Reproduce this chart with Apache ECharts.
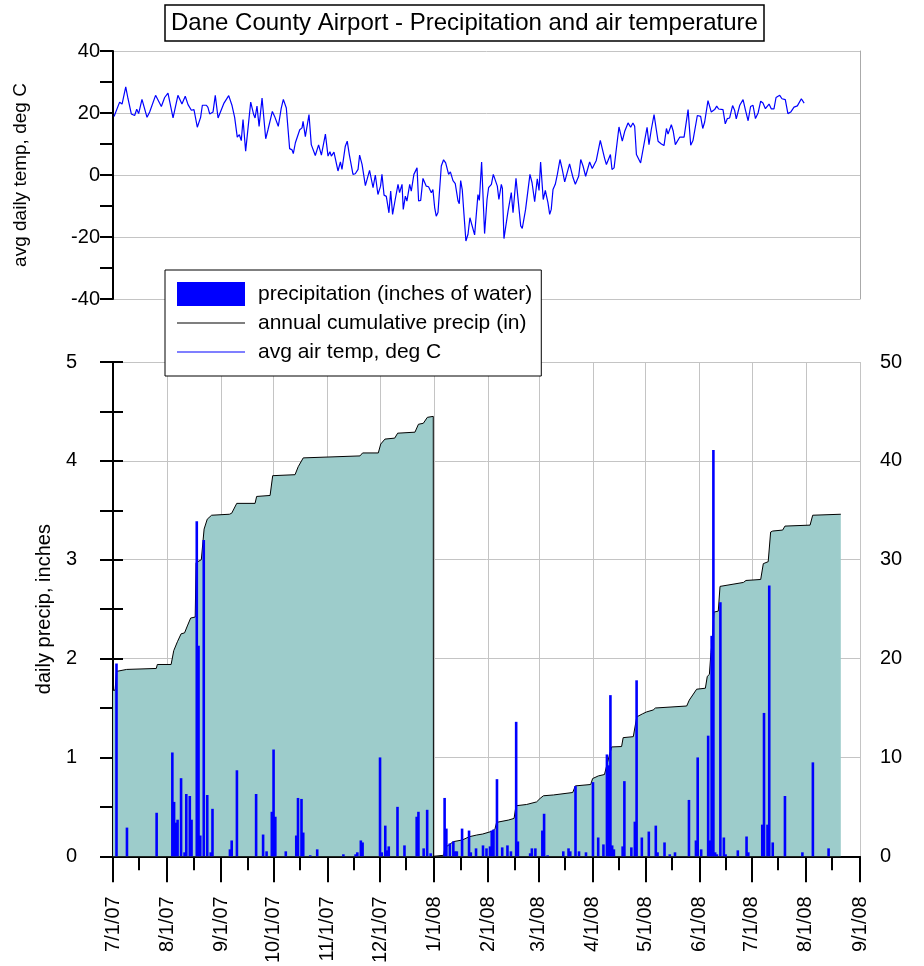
<!DOCTYPE html>
<html><head><meta charset="utf-8">
<script src="https://cdn.jsdelivr.net/npm/echarts@6/dist/echarts.min.js"></script>
<style>html,body{margin:0;padding:0;background:#fff}#c{width:924px;height:966px}</style>
</head><body><div id="c"></div>
<script>
// x positions are days since 7/1/07
const monthDays = [0,31,62,92,123,153,184,215,244,275,305,336,366,397,428];
const monthLabels = ['7/1/07','8/1/07','9/1/07','10/1/07','11/1/07','12/1/07','1/1/08','2/1/08','3/1/08','4/1/08','5/1/08','6/1/08','7/1/08','8/1/08','9/1/08'];
const minorTickDays = [15,46,77,107,138,168,199,230,259,290,320,351,381,412];

const tempDays = [0.6,3.8,5.2,7.3,8.6,9.4,10.5,12.4,13.6,14.7,16.6,17.4,19.5,21.0,24.4,27.7,29.6,31.5,32.5,34.4,37.2,39.5,41.4,43.0,43.9,44.9,46.4,48.3,50.2,51.2,53.5,54.4,55.4,57.3,58.6,60.2,61.3,63.6,66.3,68.2,69.7,71.2,72.4,73.5,74.5,76.0,78.9,80.6,81.4,82.5,83.7,85.4,87.5,88.8,89.8,91.3,92.6,93.6,94.7,96.4,97.6,98.4,99.3,101.2,102.6,103.3,104.5,107.0,108.3,108.9,110.2,112.3,113.6,114.4,115.9,116.9,117.8,119.4,121.7,123.2,124.3,125.1,126.6,128.9,130.3,131.2,
132.1,133.1,134.2,135.4,136.3,137.5,138.8,140.4,141.3,142.7,144.6,145.3,147.0,148.0,149.0,150.3,151.8,153.3,154.1,155.3,156.6,158.1,159.1,160.2,161.7,163.3,164.2,165.6,166.3,167.5,168.4,170.0,170.9,172.4,174.2,175.1,176.3,177.6,178.6,179.5,180.8,182.4,183.3,184.3,185.2,186.2,188.1,189.4,190.6,192.3,193.3,194.8,196.1,197.7,198.4,199.2,200.1,201.1,202.2,203.4,204.5,205.3,207.2,209.1,209.9,211.2,212.9,214.3,215.2,216.8,217.9,219.0,220.2,221.1,222.5,223.1,224.0,226.3,227.3,228.2,229.2,230.9,232.0,233.6,234.5,236.4,237.4,238.9,240.1,241.6,242.4,243.1,244.1,245.0,246.5,247.7,249.2,250.2,251.1,252.1,253.4,254.6,256.1,257.4,258.8,259.7,261.6,
263.6,264.9,266.8,268.0,269.3,270.8,273.1,274.6,276.9,279.2,280.2,281.7,282.7,283.6,285.0,285.9,287.1,289.9,291.8,293.2,295.1,296.6,297.9,298.9,299.9,300.8,302.3,303.1,306.0,307.1,308.4,310.0,311.3,312.3,314.2,315.7,317.1,318.0,319.9,321.0,322.2,323.3,324.7,325.6,327.2,329.5,331.0,332.3,333.3,334.8,336.7,337.9,339.0,340.9,342.8,344.7,345.9,347.0,349.5,350.8,352.0,353.3,355.0,356.2,357.1,359.1,361.0,362.3,363.9,365.3,366.7,368.1,369.6,371.1,372.4,373.8,374.9,375.9,377.2,378.7,379.9,381.0,382.0,383.3,385.2,386.7,388.3,390.2,392.1,394.4,396.0];
const tempVals = [18.9,23.5,22.9,28.4,24.6,24.0,19.7,19.2,21.2,19.8,24.4,24.3,18.6,20.3,25.7,22.1,25.0,26.4,26.2,18.4,25.7,22.9,25.4,22.7,22.9,20.9,21.1,15.4,18.6,22.5,22.5,21.8,19.7,20.3,25.7,18.4,18.6,23.2,25.6,22.4,18.6,12.2,13.0,11.1,17.9,7.7,23.5,19.5,18.4,22.2,15.7,24.8,11.7,14.6,14.1,20.5,18.9,19.2,15.7,21.6,24.4,24.2,21.6,8.5,8.1,6.9,10.4,14.6,15.2,17.3,12.4,19.5,9.8,9.3,6.3,6.3,9.7,6.4,13.2,6.1,7.5,6.1,7.4,1.3,4.2,1.8,
2.3,9.3,10.9,6.6,6.6,0.2,0.4,1.8,6.4,3.4,-3.4,-3.7,1.5,1.0,-4.1,0.0,-6.3,-3.6,0.2,-6.5,-6.9,-12.2,-5.2,-12.7,-7.9,-3.0,-5.7,-3.0,-11.1,-6.8,-8.4,-3.0,-5.2,0.2,2.3,-8.4,-8.2,-1.1,-1.1,-3.6,-3.8,-5.7,-4.7,-10.5,-13.3,-12.1,2.9,4.9,3.9,0.2,1.0,-1.8,-2.8,-8.4,-9.3,-1.8,-4.7,-12.7,-21.3,-19.1,-13.8,-13.8,-19.3,-6.3,-8.2,4.2,-18.9,-7.9,-4.1,-3.0,0.2,0.0,-3.6,-7.9,-3.0,-4.3,-20.5,-11.8,-11.6,-5.7,-12.2,-1.1,-7.3,-16.4,-17.2,-11.1,-10.8,0.2,-2.5,-8.6,-8.9,-1.2,-5.0,4.2,-7.9,-5.0,-8.9,-12.7,-11.1,-4.7,-3.0,0.2,5.0,1.8,-2.2,-1.8,3.6,
-0.9,-3.0,-0.4,5.0,2.9,-0.4,4.2,2.1,4.7,11.2,11.1,5.3,3.4,3.4,6.6,1.8,2.3,15.5,10.9,14.1,16.8,15.4,16.8,15.7,6.6,6.6,3.9,4.2,15.4,9.8,14.6,19.5,14.6,10.9,10.0,9.5,15.0,13.2,16.2,14.1,9.8,9.6,12.2,11.8,12.2,21.1,9.6,11.1,11.4,19.2,18.9,15.0,17.1,24.0,20.3,21.1,22.2,21.3,21.1,16.5,18.2,18.4,22.4,20.8,18.1,22.5,24.3,21.1,17.5,22.1,22.5,18.2,20.0,23.8,23.2,21.4,21.4,22.9,21.3,21.3,25.0,24.8,25.7,24.6,24.3,19.8,20.3,21.9,22.3,24.6,23.2];

const precipDays = [2,8,25,34,35,36,37,39,41,42,44,45,48,49,50,52,54,56,57,67,68,71,82,86,88,91,92,93,99,105,106,108,109,113,117,132,139,140,142,143,153,154,156,157,158,163,167,174,175,178,180,182,
190,191,193,195,196,197,200,204,205,208,212,214,216,217,218,220,223,226,228,231,232,239,240,242,246,247,249,258,261,262,265,267,271,275,278,281,283,284,285,286,287,292,293,297,299,300,303,307,311,312,316,319,322,330,334,335,337,341,342,343,344,345,346,348,350,351,358,363,364,372,373,375,376,378,385,395,401,410];
const precipVals = [1.95,0.29,0.44,1.05,0.55,0.34,0.37,0.79,0.04,0.63,0.61,0.37,3.39,2.13,0.21,3.2,0.62,0.04,0.48,0.07,0.16,0.87,0.63,0.22,0.05,0.45,1.08,0.40,0.05,0.21,0.59,0.58,0.24,0.01,0.07,0.02,0.02,0.04,0.16,0.14,1.0,0.04,0.31,0.06,0.10,0.50,0.11,0.40,0.45,0.08,0.47,0.03,
0.59,0.28,0.13,0.15,0.05,0.05,0.28,0.26,0.04,0.08,0.11,0.08,0.10,0.26,0.27,0.78,0.09,0.11,0.05,1.36,0.15,0.03,0.08,0.08,0.26,0.43,0.01,0.05,0.08,0.05,0.71,0.05,0.04,0.75,0.19,0.12,1.03,0.92,1.63,0.11,0.07,0.10,0.76,0.09,0.35,1.78,0.19,0.25,0.31,0.04,0.14,0.02,0.04,0.57,0.16,1.00,0.07,1.22,0.16,2.23,4.11,0.04,0.02,2.57,0.19,0.02,0.06,0.20,0.04,0.32,1.45,0.32,2.74,0.14,0.61,0.04,0.95,0.08];

const cumDays = [0,1.2,2,7.8,24.8,25.4,33.3,34.8,36.9,39,41,42.6,44.5,45.6,47.1,47.6,50.6,52.2,54,56.5,66.7,68,70.9,81.4,82.3,90,91,91.5,104.3,106.1,109,141.5,143,152,153.4,155.8,161.4,163.1,173,175,177.8,180.1,183.5,183.6,
189.5,190,191,195,200.2,204.2,208.4,211.8,217.5,218.9,219.8,226.5,229.8,230.9,237,242.7,244.7,246.6,252.3,263.4,264.9,273.7,274.8,278.1,281.6,282.9,285.7,291.4,292.3,298.1,300.1,303.3,305.7,309.5,310.8,328.7,330.2,334.4,339.4,340.5,341.7,342.6,343.5,344.3,346.8,347.8,348.8,361.2,362.7,371.1,372.6,375.4,376.8,378,383.7,385,399.4,400.9,417];
const cumVals = [16.8,16.8,18.7,18.9,19.0,19.4,19.4,20.8,21.7,22.5,22.6,23.3,24.1,24.2,24.2,29.7,30.0,33.1,34.1,34.5,34.6,34.7,35.7,35.7,36.4,36.5,36.6,38.5,38.6,39.4,40.3,40.5,40.8,40.8,41.7,42.2,42.3,42.8,42.9,43.7,43.8,44.4,44.5,0,
0.1,0.7,0.97,1.48,1.65,1.98,2.15,2.25,2.55,2.8,3.43,3.66,3.83,5.11,5.24,5.5,5.85,6.12,6.2,6.45,7.12,7.26,7.86,8.13,8.27,9.2,11.06,11.1,12.0,12.1,14.1,14.4,14.6,14.8,15.0,15.2,15.8,16.9,17.0,18.2,18.4,20.6,22.0,24.7,24.8,27.3,27.5,27.7,27.9,28.0,29.6,29.8,32.8,32.9,33.0,33.4,33.5,34.5,34.6];

const zip = (a, b) => a.map((d, i) => [d, b[i]]);
const FONT = '"Liberation Sans", Arial, Helvetica, sans-serif';
const BLUE = '#0000ff';
const GRIDC = '#c4c4c4';
const txt = {fontSize: 20, color: '#000', fontFamily: FONT};
const LINE_ICON = 'path://M0,0H68V1H0Z';

const chart = echarts.init(document.getElementById('c'), null, {renderer: 'canvas'});
chart.setOption({
  animation: false,
  backgroundColor: '#fff',
  title: {
    text: 'Dane County Airport - Precipitation and air temperature',
    left: 165, top: 5, padding: [6, 6, 6, 6],
    borderColor: '#000', borderWidth: 1.5, backgroundColor: '#fff',
    textStyle: {fontSize: 24, fontWeight: 'normal', color: '#000', fontFamily: FONT}
  },
  legend: {
    left: 165, top: 270, orient: 'vertical', padding: [12, 9, 12, 12], itemGap: 5,
    itemWidth: 68, itemHeight: 24, symbolKeepAspect: true,
    backgroundColor: '#fff', borderColor: '#000', borderWidth: 1,
    textStyle: {fontSize: 21, lineHeight: 24, color: '#000', fontFamily: FONT, padding: [0, 0, 0, 8]}, z: 20,
    data: [
      {name: 'precipitation (inches of water)', icon: 'rect', itemStyle: {color: BLUE}},
      {name: 'annual cumulative precip (in)', icon: LINE_ICON, itemStyle: {color: '#000'}},
      {name: 'avg air temp, deg C', icon: LINE_ICON, itemStyle: {color: BLUE}}
    ]
  },
  grid: [
    {left: 113, right: 64, top: 51, height: 248},
    {left: 113, right: 64, top: 362, height: 496}
  ],
  xAxis: [
    {gridIndex: 0, type: 'value', min: 0, max: 428, show: false},
    {gridIndex: 1, type: 'value', min: 0, max: 428, position: 'bottom',
      axisLine: {show: true, onZero: false, lineStyle: {color: '#000', width: 2}},
      axisTick: {show: true, customValues: monthDays, length: 26, lineStyle: {color: '#000', width: 2}},
      axisLabel: Object.assign({customValues: monthDays, rotate: 90, margin: 40,
        formatter: v => monthLabels[monthDays.indexOf(v)]}, txt),
      splitLine: {show: true, lineStyle: {color: GRIDC, width: 1}}},
    {gridIndex: 1, type: 'value', min: 0, max: 428, position: 'bottom',
      axisLine: {show: false}, axisLabel: {show: false}, splitLine: {show: false},
      axisTick: {show: true, customValues: minorTickDays, length: 14, lineStyle: {color: '#000', width: 2}}}
  ],
  yAxis: [
    {gridIndex: 0, type: 'value', min: -40, max: 40, interval: 20, position: 'left',
      axisLine: {show: true, lineStyle: {color: '#000', width: 2}},
      axisTick: {show: true, length: 13, lineStyle: {color: '#000', width: 2}},
      minorTick: {show: true, splitNumber: 2, length: 13, lineStyle: {color: '#000', width: 2}},
      axisLabel: Object.assign({margin: 13}, txt),
      splitLine: {show: true, lineStyle: {color: GRIDC}},
      name: 'avg daily temp, deg C', nameLocation: 'middle', nameGap: 83,
      nameTextStyle: {fontSize: 19, color: '#000', fontFamily: FONT}},
    {gridIndex: 0, type: 'value', min: -40, max: 40, interval: 20, position: 'right',
      axisLine: {show: true, lineStyle: {color: '#aaa', width: 1}}, axisTick: {show: false},
      axisLabel: {show: false}, splitLine: {show: false}},
    {gridIndex: 1, type: 'value', min: 0, max: 5, interval: 1, position: 'left',
      axisLine: {show: true, lineStyle: {color: '#000', width: 2}},
      axisTick: {show: true, length: 13, lineStyle: {color: '#000', width: 2}},
      minorTick: {show: true, splitNumber: 2, length: 13, lineStyle: {color: '#000', width: 2}},
      axisLabel: Object.assign({margin: 36}, txt),
      splitLine: {show: true, lineStyle: {color: GRIDC}},
      name: 'daily precip, inches', nameLocation: 'middle', nameGap: 58, nameTextStyle: txt},
    {gridIndex: 1, type: 'value', min: 0, max: 50, interval: 10, position: 'right',
      axisLine: {show: true, lineStyle: {color: '#000', width: 2}},
      axisTick: {show: true, length: 10, lineStyle: {color: '#000', width: 2}},
      minorTick: {show: true, splitNumber: 2, length: 10, lineStyle: {color: '#000', width: 2}},
      axisLabel: Object.assign({margin: 20}, txt),
      splitLine: {show: false}}
  ],
  series: [
    {name: 'annual cumulative precip (in)', type: 'line', xAxisIndex: 1, yAxisIndex: 3,
      data: zip(cumDays, cumVals), symbol: 'none', z: 2,
      itemStyle: {color: '#000'}, lineStyle: {color: '#000', width: 1},
      areaStyle: {color: '#9dcccb', opacity: 1}},
    {name: 'precipitation (inches of water)', type: 'bar', xAxisIndex: 1, yAxisIndex: 2,
      data: zip(precipDays, precipVals), barWidth: 2.6, z: 3,
      itemStyle: {color: BLUE}},
    {name: 'avg air temp, deg C', type: 'line', xAxisIndex: 0, yAxisIndex: 0,
      data: zip(tempDays, tempVals), symbol: 'none', z: 3,
      itemStyle: {color: BLUE}, lineStyle: {color: BLUE, width: 1.2}}
  ]
});
</script></body></html>
